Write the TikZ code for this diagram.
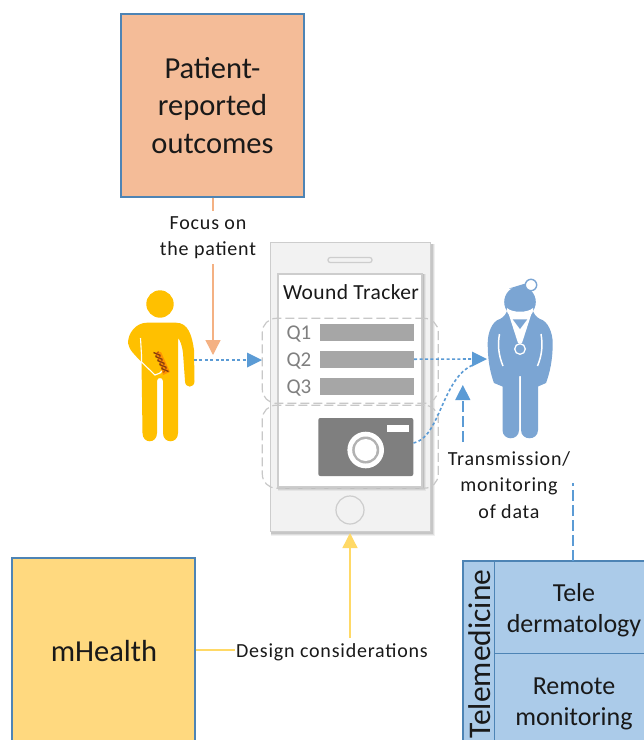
\documentclass[tikz,border=0pt]{standalone}
\usepackage{fontspec}
\setmainfont{Carlito}
\usetikzlibrary{arrows.meta}
\definecolor{bluel}{HTML}{5B9BD5}
\definecolor{orangef}{HTML}{F4BC98}
\definecolor{orangel}{HTML}{F4B183}
\definecolor{yellowf}{HTML}{FFD97F}
\definecolor{yellowl}{HTML}{FFD966}
\definecolor{telef}{HTML}{ABCBE9}
\definecolor{patientc}{HTML}{FFC000}
\definecolor{docc}{HTML}{7BA5D3}
\definecolor{dashg}{HTML}{C8C8C8}
\definecolor{bargrey}{HTML}{A6A6A6}
\definecolor{camgrey}{HTML}{7F7F7F}
\definecolor{phonef}{HTML}{F2F2F2}
\definecolor{phonel}{HTML}{CDCDCD}
\definecolor{stitch}{HTML}{B4530F}
\tikzset{
  sq/.style={draw=bluel!85!black,line width=1.1pt,inner sep=0pt,align=center},
  lab/.style={inner sep=0pt,align=center,font=\fontsize{20}{26.5}\selectfont\addfontfeature{LetterSpace=4},text=black!90},
  big/.style={font=\fontsize{30.5}{37.5}\selectfont,text=black!90},
  mid/.style={font=\fontsize{26}{31}\selectfont,text=black!90},
  dots/.style={bluel,line width=1.6pt,dash pattern=on 3pt off 2.4pt},
  dashes/.style={bluel,line width=1.4pt,dash pattern=on 11pt off 4pt on 11pt off 4pt},
  bluetip/.style={-{Triangle[length=15pt,width=15pt,fill=bluel]}},
  qbar/.style={fill=bargrey,draw=none,minimum width=94pt,minimum height=17pt,inner sep=0pt},
  qlab/.style={inner sep=0pt,text=black!50,font=\fontsize{21}{24}\selectfont},
  region/.style={draw=dashg,line width=1.2pt,dash pattern=on 9pt off 4pt,rounded corners=14pt,fill=none,inner sep=0pt},
}
\begin{document}
\begin{tikzpicture}[x=1pt,y=-1pt]
\useasboundingbox (0,0) rectangle (644,740);
\clip (0,0) rectangle (644,740);
\fill[white] (0,0) rectangle (644,740);

% top box
\node[sq,big,fill=orangef,minimum width=183pt,minimum height=183pt] (pro) at (212.5,105.5) {Patient-\\reported\\outcomes};
\node[lab] (focus) at (208,237.5) {Focus on\\the patient};
\coordinate (focusend) at (213,355);
\coordinate (focustop) at (213,264);
\coordinate (focusmid) at (213,211);
\draw[orangel,line width=1.4pt] (focusmid |- pro.south) -- (focusmid);
\draw[orangel,line width=1.4pt,-{Triangle[length=15pt,width=15pt,fill=orangel]}] (focustop) -- (focusend);

% phone
\foreach \d/\o in {4/.06,3/.08,2/.1}{\fill[black,opacity=\o] (271,244) rectangle (431+\d,532+\d);}
\node[fill=phonef,draw=phonel,line width=1.4pt,minimum width=160pt,minimum height=289pt,inner sep=0pt] (phone) at (350.5,387) {};
\foreach \d/\o in {4/.05,3/.07,2/.1}{\fill[black,opacity=\o] (278,274) rectangle (422+\d,487+\d);}
\node[fill=white,draw=phonel,line width=1.2pt,minimum width=144pt,minimum height=213pt,inner sep=0pt] (screen) at (350,380.5) {};
\node[fill=phonef,draw=phonel,line width=1.2pt,rounded corners=2.3pt,minimum width=44pt,minimum height=5pt,inner sep=0pt] (speaker) at (350,260) {};
\node[circle,fill=phonef,draw=phonel,line width=1.2pt,minimum size=28pt,inner sep=0pt] (home) at (350,510) {};
\node[inner sep=0pt,font=\fontsize{21.5}{24}\selectfont\addfontfeature{LetterSpace=2},text=black!90] (title) at (351,292) {Wound Tracker};

% question bars
\node[qbar] (b1) at (367,332.5) {};
\node[qbar] (b2) at (367,359.2) {};
\node[qbar] (b3) at (367,386.2) {};
\node[qlab] (q1) at (299,334) {Q1};
\node[qlab] (q2) at (299,361) {Q2};
\node[qlab] (q3) at (299,388) {Q3};

% camera
\node[fill=camgrey,rounded corners=2pt,minimum width=95pt,minimum height=58pt,inner sep=0pt] (cam) at (365.8,447) {};
\fill[white] (387.3,425) rectangle (409,432);
\fill[white] (365.7,450) circle[radius=18.3];
\fill[black!30] (365.7,450) circle[radius=13.5];
\fill[white] (365.7,450) circle[radius=11];

% dashed regions
\node[region,minimum width=176pt,minimum height=85pt] (r1) at (350.3,360.8) {};
\node[region,minimum width=176pt,minimum height=83pt] (r2) at (350.3,446.7) {};

% patient
\fill[patientc] (160,304) circle[radius=13.7];
\fill[patientc] (147,322.7) -- (176,322.7)
  .. controls (188,322.7) and (192,335) .. (194,350)
  -- (194.5,381) .. controls (194.5,388.5) and (185,388.5) .. (185,381)
  -- (183,353) .. controls (182,345) and (180,340) .. (178,338)
  -- (178,433) .. controls (178,444) and (163,444) .. (163,433)
  -- (163,381) .. controls (163,377) and (157,377) .. (157,381)
  -- (157,433) .. controls (157,444) and (142.5,444) .. (142.5,433)
  -- (141.5,362) .. controls (135,355) and (129,350) .. (128,343)
  .. controls (128,333) and (136,322.7) .. (147,322.7) -- cycle;
\draw[white,line width=1.1pt] (140.5,338) -- (141.5,355) -- (141.5,362) -- (155,375) -- (160,373) -- (165,368);
\fill[orange!70!patientc] (156,352) -- (161,352) -- (170,372) -- (163,375) -- cycle;
\foreach \p/\q in {157/354,159/358,161/362,163/366,165/370}{
  \draw[stitch!70!black,line width=1.3pt] (\p-3.5,\q-1.5) -- (\p+3.5,\q+1.5);
  \draw[stitch,line width=1.2pt] (\p-1.5,\q+2.5) -- (\p+1.5,\q-2.5);
}
\coordinate (patient) at (194,360);

% doctor
\fill[docc] (500,319) .. controls (504,317) and (507,313) .. (508,308) -- (532,308) .. controls (533,313) and (536,317) .. (540,319)
  .. controls (548,321) and (552.7,333) .. (552.7,343)
  .. controls (552.7,360) and (550,372) .. (546,383)
  -- (538,386.5) -- (538,430) .. controls (538,441) and (521,441) .. (521,430)
  -- (521,376) -- (519,376) -- (519,430) .. controls (519,441) and (502.5,441) .. (502.5,430)
  -- (502.5,386.5) -- (494,383) .. controls (490,372) and (487.7,360) .. (487.7,343)
  .. controls (487.7,333) and (492,321) .. (500,319) -- cycle;
\draw[white,line width=1.5pt] (499.5,334) .. controls (497.5,345) and (498.5,355) .. (503,366);
\draw[white,line width=1.5pt] (541,334) .. controls (543,345) and (542,355) .. (537.5,366);
\fill[docc] (520,302) circle[radius=15.8];
\fill[white] (507,308) .. controls (512,313) and (528,313) .. (533,308) .. controls (534,316) and (527,318) .. (520,318) .. controls (513,318) and (506,316) .. (507,308) -- cycle;
\fill[white] (509,288.5) -- (527,283) -- (530,290) -- (522,286) -- cycle;
\fill[docc] (509,288.5) -- (527,283) -- (529,288.5) -- cycle;
\draw[docc,line width=1.4pt,fill=white] (531,285) circle[radius=5.7];
% stethoscope
\fill[white] (508,312) -- (532,312) -- (522,343) -- (518,343) -- cycle;
\fill[docc] (512.7,319.3) -- (527.3,319.3) -- (520,329) -- cycle;
\draw[white,line width=1.3pt,fill=docc] (520,349) circle[radius=5.3];
\coordinate (doctor) at (487,359);
\coordinate (doctorlow) at (473,365);

% connectors between phone and figures
\coordinate (qin) at (262,360);
\draw[dots] (patient) -- (248,360);
\draw[bluel,line width=0pt,bluetip] (247,360) -- (qin);
\draw[dots] (b2.east) -- (473,359);
\draw[bluel,line width=0pt,bluetip] (472,359) -- (doctor);
\draw[dots] (cam.east |- 0,443) .. controls (440,438) and (442,378) .. (doctorlow);

% mHealth
\node[sq,fill=yellowf,minimum width=183pt,minimum height=220pt] (mh) at (103.5,668) {};
\node[inner sep=0pt,font=\fontsize{30.5}{34}\selectfont,text=black!90] (mhl) at (104,651) {mHealth};
\node[lab] (design) at (332,652) {Design considerations};
\coordinate (designline) at (235,650);
\draw[yellowl,line width=1.4pt] (mh.east |- designline) -- (designline);
\coordinate (designtop) at (350,638);
\coordinate (phonebot) at (350,533);
\draw[yellowl,line width=1.4pt,-{Triangle[length=15pt,width=15pt,fill=yellowl]}] (designtop) -- (phonebot);

% transmission
\node[lab] (trans) at (509,485) {Transmission/\\monitoring\\of data};
\coordinate (t0) at (462.8,442);
\coordinate (t1) at (462.8,385);
\draw[dashes,bluetip] (t0) -- (t1);
\coordinate (t2) at (573,483);

% telemedicine
\fill[telef] (463,561) rectangle (660,745);
\draw[bluel!85!black,line width=1.1pt] (660,561) -- (463,561) -- (463,745) (494.5,561) -- (494.5,745) (494.5,653.7) -- (660,653.7);
\node[inner sep=0pt,rotate=90,font=\fontsize{31.5}{34}\selectfont,text=black!90] (tm) at (480,654) {Telemedicine};
\node[inner sep=0pt,align=center,mid] (td) at (574,610.5) {Tele\\dermatology};
\node[inner sep=0pt,align=center,mid] (rm) at (574,704) {Remote\\monitoring};
\coordinate (teletop) at (573,561);
\draw[dashes] (teletop) -- (t2);
\end{tikzpicture}
\end{document}
